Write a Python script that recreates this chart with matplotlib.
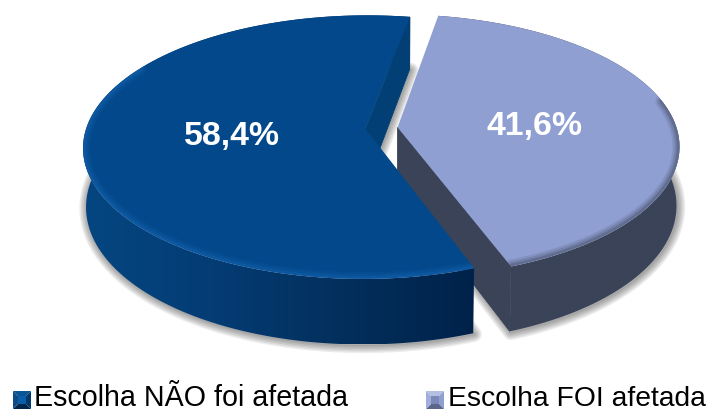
import matplotlib
matplotlib.use('Agg')
import matplotlib.pyplot as plt
from matplotlib.colors import LinearSegmentedColormap
from matplotlib.patches import Polygon
import numpy as np

plt.rcParams['font.family'] = ['Liberation Sans', 'DejaVu Sans']

categorias = ['Escolha NÃO foi afetada', 'Escolha FOI afetada']
valores = [58.4, 41.6]
cores_topo = ['#02488a', '#8f9fd2']
cores_parede = [['#054681', '#043c74', '#032f5c', '#00224a'], ['#3a4358', '#3a4358']]
cores_corte = ['#023f74', '#3a4358']
cores_borda = ['#1768b4', '#3a4358']
faixas_borda = [(150, 300), (-75, 12)]

INICIO = 80.0       # angulo onde as fatias se separam, atras
EXPLODE = 0.058
CX, CY = 381.5, 128
RX, RY = 279, 129
K = 0.14
ALTURA = 58


def projeta_uv(u, v, base=False):
    rx = RX * 0.99 if base else RX
    ry = RY * 1.05 if base else RY
    cy = CY + ALTURA if base else CY
    return np.column_stack([CX + rx * u / (1 + K * v), cy - ry * v / (1 + K * v)])


def projeta(ang, d, base=False):
    return projeta_uv(np.cos(np.radians(ang)) + d[0], np.sin(np.radians(ang)) + d[1], base)


def gradiente(ax, pontos, cores, zorder):
    cmap = LinearSegmentedColormap.from_list('g', cores)
    x0, x1 = pontos[:, 0].min(), pontos[:, 0].max()
    y0, y1 = pontos[:, 1].min(), pontos[:, 1].max()
    im = ax.imshow(np.linspace(0, 1, 256)[None, :], extent=[x0, x1, y1, y0], cmap=cmap,
                   aspect='auto', zorder=zorder, interpolation='bilinear')
    im.set_clip_path(Polygon(pontos, closed=True, transform=ax.transData))


fig = plt.figure(figsize=(7.07, 4.12), dpi=100)
ax = fig.add_axes([0, 0, 1, 1])

angulos = np.array(valores) / sum(valores) * 360
faixas = [(INICIO, INICIO + angulos[0]), (INICIO - angulos[1], INICIO)]
desloc = []
for a0, a1 in faixas:
    meio = np.radians((a0 + a1) / 2)
    desloc.append((EXPLODE * np.cos(meio), EXPLODE * np.sin(meio)))

# sombra suave, so a partir da base
for i in [1, 0]:
    ang = np.linspace(faixas[i][0], faixas[i][1], 300)
    sombra = np.vstack([projeta_uv(np.array([desloc[i][0]]), np.array([desloc[i][1]]), True),
                        projeta(ang, desloc[i], True)])
    for lw in [11, 9, 7, 5, 3, 1]:
        ax.add_patch(Polygon(sombra + [1, 1], closed=True, fc='none', ec='#303030', lw=lw,
                             alpha=0.09, joinstyle='round', zorder=1))

# fatia clara primeiro, a escura passa por cima
z = 2
rotulos_uv = [(-0.475, -0.06), (0.49, 0.01)]
for i in [1, 0]:
    a0, a1 = faixas[i]
    d = desloc[i]
    ang = np.linspace(a0, a1, 300)
    topo = projeta(ang, d)
    base = projeta(ang, d, True)
    centro_t = projeta_uv(np.array([d[0]]), np.array([d[1]]))
    centro_b = projeta_uv(np.array([d[0]]), np.array([d[1]]), True)

    gradiente(ax, np.vstack([topo, base[::-1]]), cores_parede[i], z)

    # parede de corte visivel: atras na escura, na frente na clara
    corte = np.vstack([centro_t, topo[:1], base[:1], centro_b])
    ax.add_patch(Polygon(corte, closed=True, fc=cores_corte[i], ec=cores_corte[i], lw=0.6, zorder=z + 1))

    tampa = np.vstack([centro_t, topo])
    patch = Polygon(tampa, closed=True, fc=cores_topo[i], ec='none', zorder=z + 2)
    ax.add_patch(patch)

    # chanfro so na borda da frente
    trecho = (ang >= faixas_borda[i][0]) & (ang <= faixas_borda[i][1])
    for lw, al in [(10, 0.15), (7, 0.2), (4, 0.3)]:
        ln, = ax.plot(topo[trecho, 0], topo[trecho, 1], color=cores_borda[i], lw=lw, alpha=al,
                      zorder=z + 3, solid_capstyle='round')
        ln.set_clip_path(patch)
    z += 5

    pos = projeta_uv(np.array([d[0] + rotulos_uv[i][0]]), np.array([d[1] + rotulos_uv[i][1]]))[0]
    ax.text(pos[0], pos[1], f'{valores[i]:.1f}%'.replace('.', ','), color='white', fontsize=24.4,
            fontweight='bold', ha='center', va='center', zorder=40)

# legenda
legenda_x = [13, 426]
tamanhos = [20.6, 20.3]
cores_leg = [('#0a5596', '#04386c', '#02254a', '#0c4a88', '#0a5fa8'),
             ('#b4bfe2', '#8f9fd2', '#5a668c', '#a0aeda', '#7a89b8')]
for xm, nome, c, tam in zip(legenda_x, categorias, cores_leg, tamanhos):
    L = 18
    y0 = 391
    cx, cy = xm + L / 2, y0 + L / 2
    quad = [(xm, y0), (xm + L, y0), (xm + L, y0 + L), (xm, y0 + L)]
    for j in range(4):
        ax.add_patch(Polygon([quad[j], quad[(j + 1) % 4], (cx, cy)], closed=True, fc=c[j], ec='none', zorder=5))
    ax.add_patch(Polygon([(cx - 4, cy - 4), (cx + 4, cy - 4), (cx + 4, cy + 4), (cx - 4, cy + 4)],
                         closed=True, fc=c[4], ec='none', zorder=6))
    ax.text(xm + L + 3.5, 405.5, nome, color='black', fontsize=tam, ha='left', va='baseline', zorder=6)

ax.set_xlim(0, 707)
ax.set_ylim(412, 0)
ax.axis('off')
fig.savefig('out.png', dpi=100)
